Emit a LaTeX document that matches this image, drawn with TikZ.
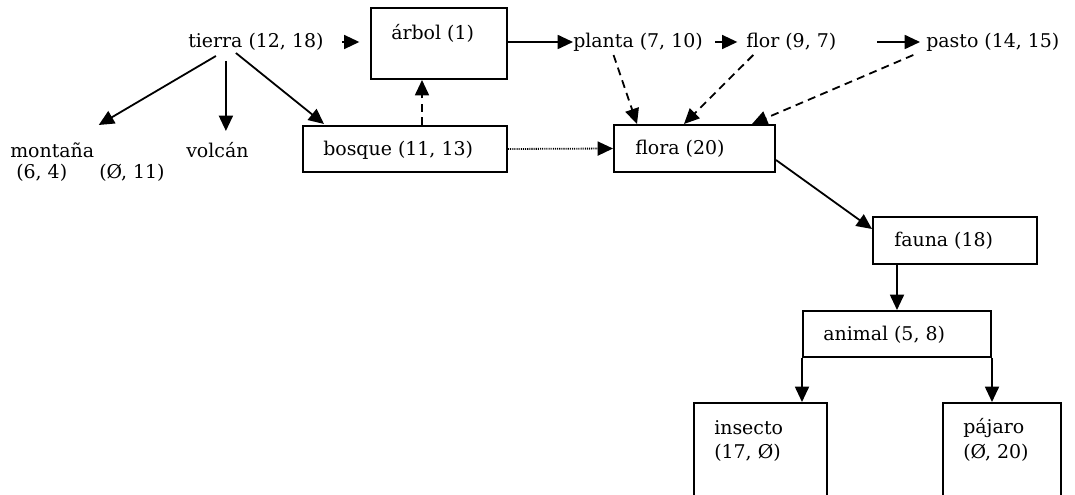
\documentclass[tikz,border=0pt]{standalone}
\usepackage{fontspec}
\setmainfont{DejaVu Serif}
\usetikzlibrary{arrows.meta,calc,fit}
\begin{document}
\begin{tikzpicture}[x=0.75pt,y=-0.75pt,
  every node/.style={font=\fontsize{14.2}{17}\selectfont},
  txt/.style={inner sep=0pt,anchor=west},
  box/.style={draw,line width=1.5pt,inner sep=0pt},
  arr/.style={line width=1.35pt,-{Triangle[length=11.5pt,width=10.5pt]}},
  dsh/.style={arr,dash pattern=on 6pt off 4pt},
  dot/.style={arr,dash pattern=on 0.8pt off 0.8pt}]
\useasboundingbox (0,0) rectangle (1075,495);
\clip (0,0) rectangle (1075,495);

% boxed concepts
\node[box,fit={(371,8) (507,79)}] (arbol) {};
\node[box,fit={(303,126) (507,172)}] (bosque) {};
\node[box,fit={(614,125) (775,172)}] (flora) {};
\node[box,fit={(873,217) (1037,264)}] (fauna) {};
\node[box,fit={(803,311) (991,357)}] (animal) {};
\node[box,fit={(694,403) (827,530)}] (insecto) {};
\node[box,fit={(943,403) (1061,530)}] (pajaro) {};

% labels
\node[txt] (tarbol) at (391,33) {árbol (1)};
\node[txt] (tbosque) at (323,150) {bosque (11, 13)};
\node[txt] (tflora) at (635,149) {flora (20)};
\node[txt] (tfauna) at (894,241) {fauna (18)};
\node[txt] (tanimal) at (823,335) {animal (5, 8)};
\node[txt] (tinsecto) at (714,428) {insecto};
\node[txt] (tinsecto2) at (714,453) {(17, Ø)};
\node[txt] (tpajaro) at (963,428) {pájaro};
\node[txt] (tpajaro2) at (963,453) {(Ø, 20)};

% free-standing terms
\node[txt] (tierra) at (188,42) {tierra (12, 18)};
\node[txt] (planta) at (573,42) {planta (7, 10)};
\node[txt] (flor) at (746,42) {flor (9, 7)};
\node[txt] (pasto) at (926,42) {pasto (14, 15)};
\node[txt] (montana) at (10,150) {montaña};
\node[txt] (montana2) at (16,173) {(6, 4)};
\node[txt] (volcan2) at (99,173) {(Ø, 11)};
\node[txt] (volcan) at (186,150) {volcán};

% top row
\draw[arr,shorten <=14pt,shorten >=8pt] (tierra.east) -- (tierra.east -| arbol.west);
\draw[arr] (arbol.east |- planta.west) -- (planta.west);
\draw[arr,shorten <=9pt,shorten >=6.5pt] (planta.east) -- (flor.west);
\draw[arr,shorten <=30.5pt,shorten >=4.5pt] (flor.east) -- (pasto.west);

% tierra branches
\draw[arr] ($(tierra)+(-40,14)$) -- ($(montana)+(46.5,-25)$);
\draw[arr] ($(tierra)+(-30,19)$) -- ($(tierra)+(-30,89)$);
\draw[arr] ($(tierra)+(-20,11)$) -- ($(bosque.north west)+(22,-1)$);

% links into árbol and flora
\draw[dsh] ($(bosque.north)+(17,0)$) -- ($(arbol.south)+(-17,0)$);
\draw[dot] (bosque.east) -- (flora.west);
\draw[dsh] ($(planta)+(-24.5,13)$) -- ($(flora.north west)+(24,0)$);
\draw[dsh] ($(flor)+(-38,13)$) -- ($(flora.north west)+(71,0)$);
\draw[dsh] ($(pasto)+(-79.5,13)$) -- ($(flora.north west)+(139,0)$);

% lower chain
\draw[arr] ($(flora.east)+(0,11.5)$) -- ($(fauna.west)+(0,-11.5)$);
\draw[arr] (fauna.south -| animal.north) -- (animal.north);
\draw[arr] (animal.south west) -- (animal.south west |- insecto.north);
\draw[arr] (animal.south east) -- (animal.south east |- pajaro.north);
\end{tikzpicture}
\end{document}
